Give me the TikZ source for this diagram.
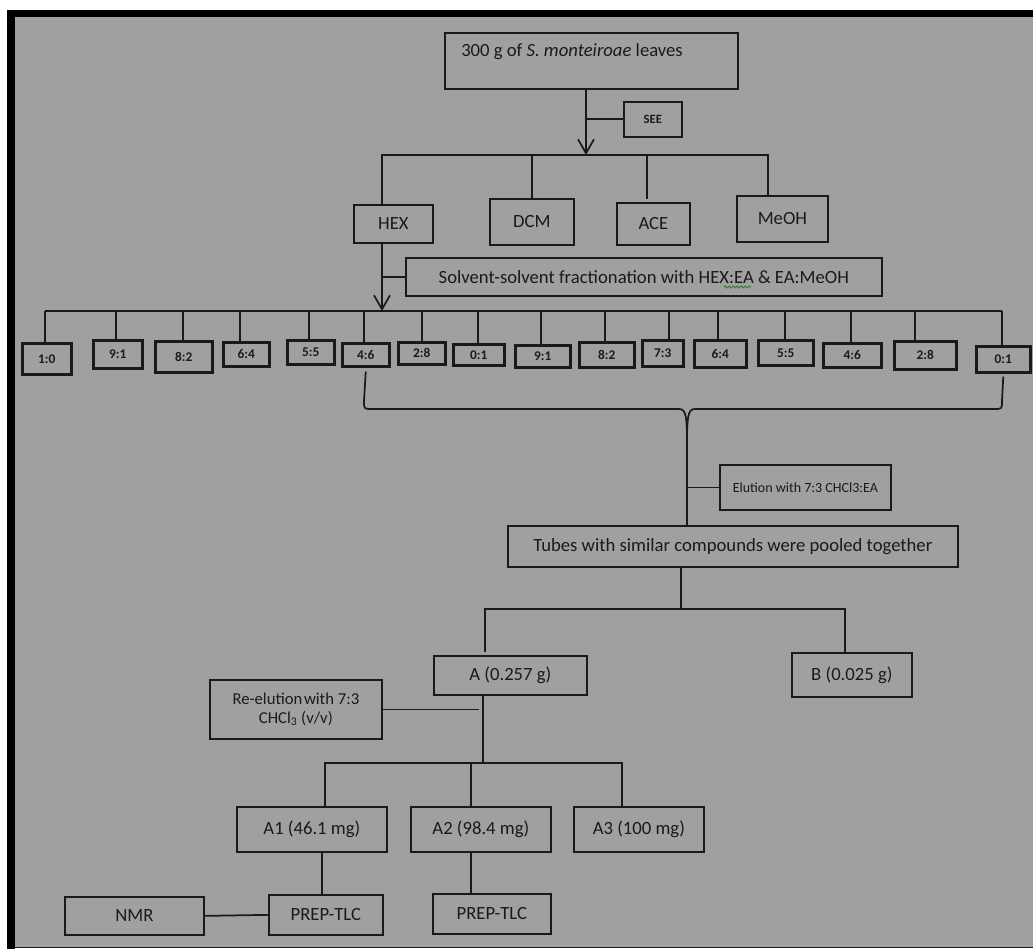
\documentclass[tikz,border=0pt]{standalone}
\usepackage{fontspec}
\setmainfont{Carlito}
\usetikzlibrary{arrows.meta,decorations.pathmorphing}
\definecolor{panel}{HTML}{A0A0A0}
\definecolor{ink}{HTML}{1A1A1A}
\definecolor{squiggle}{HTML}{2E7D32}

\tikzset{
  box/.style={draw=ink, line width=1.3pt, anchor=north west, inner sep=0pt,
              text=ink, align=center, font=\fontsize{14}{16.5}\selectfont},
  sz/.style 2 args={minimum width={(#1)*0.75pt}, minimum height={(#2)*0.75pt}},
  ratio/.style={box, line width=1.9pt, font=\fontsize{10}{11}\selectfont\bfseries},
  tag/.style={box, font=\fontsize{9.5}{10}\selectfont\bfseries},
  wire/.style={draw=ink, line width=1.3pt},
  arrowwire/.style={wire, -{Straight Barb[length=10.5pt,width=12pt,line width=1.3pt]}},
  plain/.style={inner sep=0pt, text=ink, font=\fontsize{14}{16.5}\selectfont},
}

\begin{document}
\begin{tikzpicture}[x=0.75pt,y=-0.75pt]
% page, panel and frame
\useasboundingbox (0,0) rectangle (1033,949);
\fill[white] (0,0) rectangle (1033,949);
\fill[panel] (15,17) rectangle (1033,947);
\fill[black] (7,10) rectangle (1033,17);
\fill[black] (7,10) rectangle (15,949);
\fill[ink] (15,946.5) rectangle (1033,948);

% ---- starting material and extraction ----
\node[box, sz={293}{56}] (src) at (444,32) {};
\node[plain, anchor=west] (srctext) at (461,52) {300 g of \textit{S. monteiroae} leaves};
\node[tag, sz={58}{35}] (see) at (623,101) {SEE};

\coordinate (jTop) at (586,155);
\draw[arrowwire] (src.south -| jTop) -- (jTop);
\draw[wire] (see.west) -- (see.west -| jTop);

\node[box, sz={79}{38}] (hex) at (353,204) {HEX};
\node[box, sz={84}{46}] (dcm) at (489,198) {DCM};
\node[box, sz={73}{42}] (ace) at (616,202) {ACE};
\node[box, sz={91}{46}] (meoh) at (736,195) {MeOH};

\coordinate (busAL) at (382,155);
\coordinate (busAR) at (768,155);
\coordinate (dAce) at (647,155);
\draw[wire] (hex.north -| busAL) -- (busAL) -- (busAR) -- (meoh.north -| busAR);
\draw[wire] (busAL -| dcm.north) -- (dcm.north);
\draw[wire, shorten >=2.5pt] (dAce) -- (dAce |- ace.north);

% ---- fractionation of the hexane extract ----
\node[box, sz={476}{38}] (solv) at (405,257) {Solvent-solvent fractionation with HEX:EA \& EA:MeOH};
\draw[squiggle, line width=0.7pt, decorate,
      decoration={snake, amplitude=0.8pt, segment length=3pt}] (724,287) -- (751,287);
\coordinate (jHex) at (382,311);
\draw[arrowwire] (hex.south -| jHex) -- (jHex);
\draw[wire] (solv.west) -- (solv.west -| jHex);

\coordinate (busBL) at (45,311);
\coordinate (busBR) at (1002,311);
\draw[wire] (busBL) -- (busBR);

\foreach \n/\xa/\ya/\xb/\yb/\d/\t in {
   1/21/342/70/373/45/1:0,
   2/92/339/141/367/116/9:1,
   3/154/340/211/371/183/8:2,
   4/222/341/268/365/240/6:4,
   5/286/339/333/363/309/5:5,
   6/341/342/388/365/364/4:6,
   7/397/341/444/363/422/2:8,
   8/452/343/503/364/478/0:1,
   9/514/344/569/366/541/9:1,
   10/578/341/633/366/605/8:2,
   11/641/339/682/365/669/7:3,
   12/693/339/745/366/718/6:4,
   13/757/339/812/364/785/5:5,
   14/822/342/880/366/851/4:6,
   15/893/340/955/368/915/2:8,
   16/975/345/1029/371/1002/0:1}
{
  \node[ratio, sz={\xb-\xa}{\yb-\ya}] (r\n) at (\xa,\ya) {\t};
  \draw[wire] (r\n.north -| \d,0) -- (\d,311);
}

% ---- pooling brace ----
\coordinate (cusp) at (687,445);
\draw[wire] (r6.south) ++(0,4) -- (364,401) .. controls (364,409) .. (372,409)
  -- (679,409) .. controls (686,409) and (687,416) .. (cusp);
\draw[wire] (r16.south) ++(0,3) -- (1002,401) .. controls (1002,409) .. (994,409)
  -- (695,409) .. controls (688,409) and (687,416) .. (cusp);

\node[box, sz={171}{45}, font=\fontsize{10.5}{12}\selectfont] (elu) at (719,464) {Elution with 7:3 CHCl3:EA};
\node[box, sz={450}{41}] (tubes) at (507,525) {Tubes with similar compounds were pooled together};
\draw[wire] (cusp) -- (cusp |- tubes.north);
\draw[wire] (elu.west) -- (elu.west -| cusp);

% ---- pooled fractions ----
\node[box, sz={153}{39}] (fa) at (433,655) {A (0.257 g)};
\node[box, sz={120}{44}] (fb) at (791,652) {B (0.025 g)};
\coordinate (jTubes) at (681,609);
\coordinate (busCL) at (485,609);
\coordinate (busCR) at (845,609);
\draw[wire] (tubes.south -| jTubes) -- (jTubes);
\draw[wire, shorten <=2.5pt] (fa.north -| busCL) -- (busCL) -- (busCR) -- (fb.north -| busCR);

% ---- re-elution of fraction A ----
\node[box, sz={172}{59}, font=\fontsize{12.5}{14.5}\selectfont] (reel) at (209,679)
  {Re-elution\hspace{0.1em}with 7:3\\CHCl\textsubscript{3} (v/v)};
\node[box, sz={150}{45}] (a1) at (236,806) {A1 (46.1 mg)};
\node[box, sz={140}{45}] (a2) at (410,806) {A2 (98.4 mg)};
\node[box, sz={130}{45}] (a3) at (573,806) {A3 (100 mg)};

\coordinate (busDL) at (325,763);
\coordinate (busDM) at (483,763);
\coordinate (busDR) at (622,763);
\draw[wire] (fa.south -| busDM) -- (busDM);
\draw[wire, shorten >=3pt] (reel.east) -- (reel.east -| busDM);
\draw[wire] (a1.north -| busDL) -- (busDL) -- (busDR) -- (a3.north -| busDR);
\draw[wire] (busDL -| 471,0) -- (a2.north -| 471,0);

% ---- final purification ----
\node[box, sz={114}{40}] (prep1) at (268,894) {PREP-TLC};
\node[box, sz={118}{40}] (prep2) at (432,893) {PREP-TLC};
\node[box, sz={139}{38}] (nmr) at (64,896) {NMR};
\draw[wire] (a1.south -| 322,0) -- (prep1.north -| 322,0);
\draw[wire] (a2.south -| 471,0) -- (prep2.north -| 471,0);
\draw[wire] (nmr.east) -- (prep1.west);
\end{tikzpicture}
\end{document}
